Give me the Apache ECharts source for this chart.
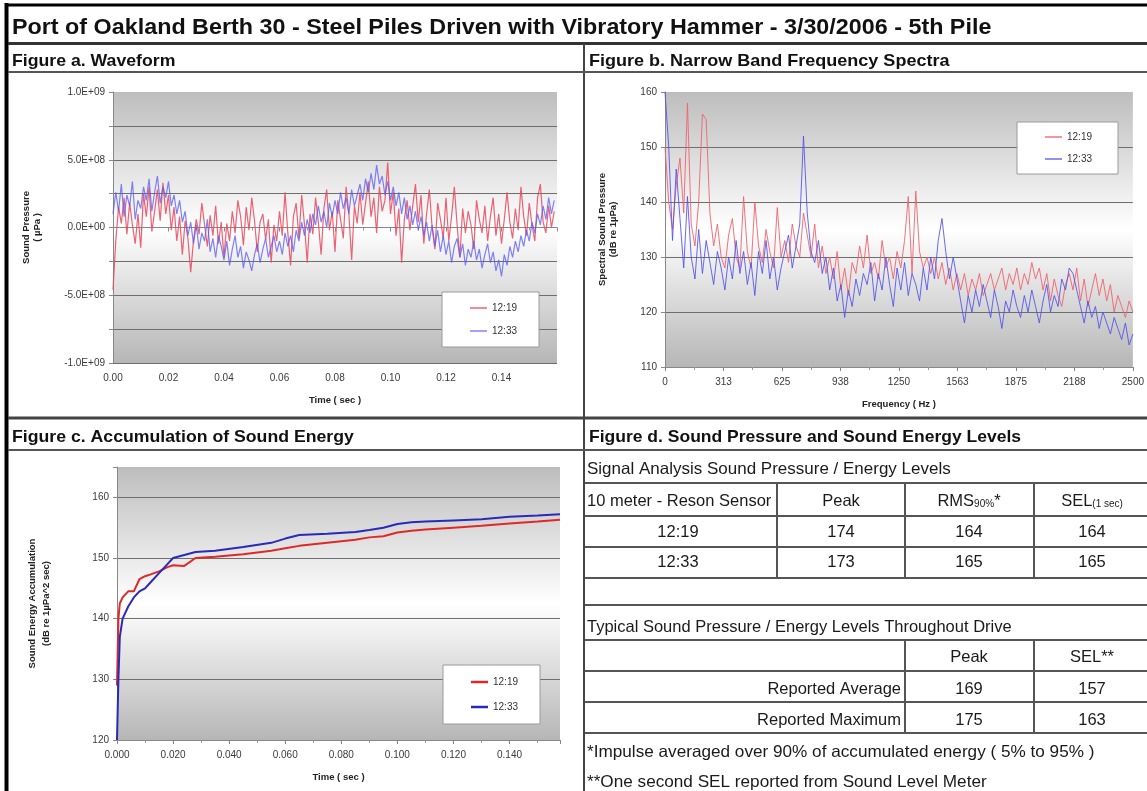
<!DOCTYPE html>
<html>
<head>
<meta charset="utf-8">
<script src="https://cdn.jsdelivr.net/npm/echarts@6/dist/echarts.min.js"></script>
<style>
html,body{margin:0;padding:0;background:#fff;}
#main{width:1147px;height:791px;}
</style>
</head>
<body>
<div id="main"></div>
<script>
// waveform, one sample per ms, values in units of 1E+08 uPa
var waveStep = 0.001;
var wave1219 = [
  -4.6, -1.0, 1.5, 0.3, 2.2, -0.5, 1.8, 0.2, -1.2, 1.0,
  -1.5, 2.5, 0.8, 3.0, -0.3, 1.2, 2.8, 0.5, 3.3, 1.0,
  2.4, -0.2, 1.5, -1.0, 0.8, -2.0, 0.5, -0.8, -3.3, -1.0,
  0.6, -0.5, 1.8, 0.2, -1.4, 0.9, -0.6, 1.6, -1.2, 0.4,
  -2.2, 0.3, -1.0, 1.2, -0.4, 2.0, 0.8, -1.3, 1.5, -0.2,
  2.2, 0.5, -1.8, 0.4, 1.0, -0.9, 0.6, -2.6, 0.2, -1.0,
  1.2, -0.6, 2.6, -0.4, -2.8, 0.8, 1.8, -0.8, 2.4, 0.2,
  -2.6, 1.0, -0.5, 2.2, 0.4, -2.0, 1.4, 2.8, -0.2, 1.2,
  -1.8, 2.0, 0.6, -0.8, 3.0, 1.0, -2.4, 1.6, 0.3, 2.6,
  0.2, 1.8, 3.4, 0.8, 2.2, -0.4, 3.0, 1.2, 2.0, 4.8,
  1.0, 2.6, -0.6, 1.4, -2.6, 0.6, 2.0, -0.2, 1.6, 3.2,
  0.4, 2.4, -1.2, 1.0, 2.8, 0.0, -1.6, 1.8, 0.6, -0.8,
  2.2, -1.0, 0.8, 3.0, 0.2, -2.2, 1.4, -0.4, 1.2, 0.2,
  -1.6, 2.0, 0.6, -0.4, 1.6, -1.0, 0.8, 2.2, -0.6, 1.0,
  -1.2, 0.6, 2.6, 0.4, -0.8, 1.4, -0.2, 3.0, 0.8, -0.6,
  1.8, 0.2, -1.0, 2.2, 3.2, 0.4, -0.4, 1.6, 0.0, 1.2
];
var wave1233 = [
  1.0, 2.6, 1.2, 3.2, 0.8, 2.4, 1.6, 3.4, 0.6, 2.0,
  1.4, 3.0, 2.0, 3.6, 1.2, 2.6, 3.8, 1.8, 3.0, 2.2,
  3.4, 1.6, 2.4, 1.0, 2.0, 0.4, 1.2, -0.6, 0.4, -1.2,
  0.2, -1.6, -0.4, -1.0, 0.6, -1.8, -0.8, -2.2, -0.6, -1.4,
  -2.4, -1.0, -2.8, -1.6, -0.6, -2.2, -1.4, -3.0, -1.8, -2.4,
  -3.2, -2.0, -1.2, -2.6, -1.6, -0.8, -2.2, -1.4, -0.6, -1.8,
  -1.0, -2.0, -0.4, -1.4, -0.6, -1.8, -0.2, -1.0, 0.4, -0.6,
  0.6, -0.4, 1.0, 0.2, 1.6, 0.4, 1.2, 0.0, 1.8, 0.8,
  2.0, 1.0, 2.6, 1.4, 2.2, 1.0, 2.8, 1.6, 2.4, 3.2,
  2.0, 3.6, 2.6, 4.0, 2.8, 4.6, 3.2, 3.8, 2.4, 3.4,
  2.0, 3.0, 1.6, 2.6, 1.0, 2.2, 0.6, 1.6, 0.2, 1.2,
  -0.2, 0.8, -0.6, 0.4, -1.0, 0.2, -1.4, -0.2, -1.8, -0.6,
  -2.0, -1.0, -2.6, -1.4, -0.8, -2.2, -1.2, -2.8, -1.6, -2.2,
  -1.0, -2.4, -1.6, -3.0, -2.0, -1.2, -2.6, -1.8, -3.2, -2.4,
  -3.6, -2.0, -2.8, -1.4, -2.2, -1.0, -1.8, -0.6, -1.4, -0.2,
  -1.0, 0.4, -0.4, 1.0, 0.2, 1.6, 0.6, 2.2, 1.0, 2.0
];

// narrow band spectra, one value per 20 Hz, dB re 1uPa
var specStep = 20;
var spec1219 = [
  150, 140, 135, 143, 148, 138, 158, 136, 132, 140, 156, 155, 138, 132, 136, 130,
  128, 134, 137, 130, 128, 141, 131, 128, 140, 132, 129, 135, 131, 128, 139, 130,
  133, 129, 136, 132, 130, 138, 134, 130, 136, 128, 132, 127, 130, 126, 131, 124,
  128, 123, 129, 127, 132, 128, 134, 127, 129, 126, 133, 128, 130, 126, 131,
  128, 133, 141, 127, 142, 131, 128, 130, 127, 130, 126, 129, 125, 128, 124, 127,
  124, 127, 123, 126, 124, 127, 123, 125, 127, 124, 126, 128, 124, 127, 125,
  128, 124, 127, 125, 129, 126, 128, 124, 127, 122, 126, 123, 121, 125, 127, 124,
  128, 122, 126, 121, 124, 127, 123, 126, 122, 125, 120, 123, 121, 119, 122, 120
];
var spec1233 = [
  160, 150, 133, 146, 137, 128, 141, 130, 126, 135, 127, 133, 129, 125, 131, 128,
  124, 130, 126, 133, 127, 131, 125, 129, 123, 131, 127, 133, 126, 130, 124, 128,
  131, 134, 128, 132, 136, 152, 138, 131, 129, 133, 127, 130, 124, 128, 122, 125,
  119, 124, 121, 126, 123, 127, 125, 129, 122, 127, 124, 130, 125, 121, 128,
  124, 129, 123, 127, 125, 122, 128, 124, 130, 126, 133, 137, 131, 126, 130, 126,
  122, 118, 123, 120, 124, 121, 125, 122, 119, 124, 121, 117, 122, 120, 124,
  121, 119, 123, 120, 124, 121, 118, 122, 125, 120, 123, 121, 126, 124, 128, 127,
  124, 121, 118, 122, 119, 121, 117, 120, 118, 116, 119, 117, 115, 118, 114, 116
];

// accumulation of sound energy, dB re 1uPa^2 sec
var accTime = [0, 0.0005, 0.001, 0.002, 0.004, 0.006, 0.008, 0.010, 0.012, 0.015, 0.018,
  0.020, 0.024, 0.028, 0.035, 0.045, 0.055, 0.060, 0.065, 0.075, 0.085, 0.090, 0.095,
  0.100, 0.105, 0.110, 0.120, 0.130, 0.140, 0.150, 0.158];
var acc1219 = [129, 140, 142.5, 143.5, 144.5, 144.5, 146.5, 147, 147.3, 147.8, 148.5,
  148.8, 148.7, 150, 150.2, 150.6, 151.2, 151.6, 152, 152.5, 153, 153.4, 153.6,
  154.2, 154.5, 154.7, 155, 155.3, 155.7, 156, 156.3];
var acc1233 = [120, 130, 137, 140, 142, 143.5, 144.5, 145, 146, 147.5, 149,
  150, 150.5, 151, 151.2, 151.8, 152.5, 153.2, 153.8, 154, 154.3, 154.6, 155,
  155.6, 155.9, 156, 156.2, 156.4, 156.8, 157, 157.2];

// figure d table
var signalTimes = ['12:19', '12:33'];
var signalPeak = [174, 173];
var signalRms = [164, 165];
var signalSel = [164, 165];
var typicalLabels = ['Reported Average', 'Reported Maximum'];
var typicalPeak = [169, 175];
var typicalSel = [157, 163];
var footnotes = ['*Impulse averaged over 90% of accumulated energy ( 5% to 95% )',
  '**One second SEL reported from Sound Level Meter'];

var font = '"Liberation Sans", Arial, sans-serif';
var red = 'rgba(232,72,92,0.85)';
var blue = 'rgba(90,90,245,0.75)';

function sci(v) {
  if (v === 0) return '0.0E+00';
  var x = v * 1e8;
  var e = Math.floor(Math.log10(Math.abs(x)) + 1e-9);
  return (x / Math.pow(10, e)).toFixed(1) + 'E+' + String(e).padStart(2, '0');
}

function plotBg() {
  return {type: 'linear', x: 0, y: 0, x2: 0, y2: 1, colorStops: [
    {offset: 0, color: '#bdbdbd'}, {offset: 0.5, color: '#ffffff'}, {offset: 1, color: '#b6b6b6'}]};
}
var axisLab = {color: '#3a3a3a', fontSize: 10, fontFamily: font};
var nameStyle = {color: '#222', fontSize: 9.5, fontWeight: 'bold', fontFamily: font, lineHeight: 11};
var gridLine = {show: true, showMaxLine: false, lineStyle: {color: '#6e6e6e', width: 1}};
var axLine = {lineStyle: {color: '#888'}};
var axTick = {length: 4, lineStyle: {color: '#888'}};

function xAx(gi, max, interval, fmt, name, showMax) {
  return {gridIndex: gi, type: 'value', min: 0, max: max, interval: interval,
    axisLine: axLine, axisTick: axTick, minorTick: {show: true, splitNumber: 2, length: 3, lineStyle: {color: '#999'}},
    splitLine: {show: false},
    axisLabel: Object.assign({}, axisLab, {formatter: fmt, showMaxLabel: showMax, margin: 10}),
    name: name, nameLocation: 'middle', nameGap: 32, nameTextStyle: nameStyle};
}
function yAx(gi, min, max, interval, fmt, name, gap, lh) {
  return {gridIndex: gi, type: 'value', min: min, max: max, interval: interval,
    axisLine: {show: true, lineStyle: {color: '#888'}}, axisTick: {show: true, length: 4, lineStyle: {color: '#888'}},
    splitLine: gridLine,
    axisLabel: Object.assign({}, axisLab, {formatter: fmt, margin: 8}),
    name: name, nameLocation: 'middle', nameRotate: 90, nameGap: gap,
    nameTextStyle: Object.assign({}, nameStyle, {lineHeight: lh || 11})};
}
function line(name, gi, data, color, width) {
  return {name: name, type: 'line', xAxisIndex: gi, yAxisIndex: gi, data: data,
    symbol: 'none', showSymbol: false, lineStyle: {color: color, width: width}, itemStyle: {color: color}};
}
function legendBox(names, left, top, pad, gap, mark) {
  return {data: names, left: left, top: top, orient: 'vertical', backgroundColor: '#fff',
    borderColor: '#9a9a9a', borderWidth: 1, padding: pad, itemGap: gap,
    icon: 'rect', itemWidth: 17, itemHeight: mark,
    formatter: function (n) { return n.slice(0, 5); },
    textStyle: {color: '#333', fontSize: 10, fontFamily: font}};
}

// frame and table drawn as graphic elements
function hl(y, x1, x2, w, c) {
  return {type: 'line', silent: true, shape: {x1: x1, y1: y, x2: x2, y2: y}, style: {stroke: c || '#555', lineWidth: w || 2}};
}
function vl(x, y1, y2, w, c) {
  return {type: 'line', silent: true, shape: {x1: x, y1: y1, x2: x, y2: y2}, style: {stroke: c || '#555', lineWidth: w || 2}};
}
function tx(s, x, y, st, sx) {
  return {type: 'text', silent: true, x: x, y: y, scaleX: sx || 1,
    style: Object.assign({text: s, fill: '#1a1a1a', fontFamily: font, fontSize: 16.5, align: 'left', verticalAlign: 'middle'}, st || {})};
}
var head = {fontWeight: 'bold', fontSize: 17, fill: '#111'};
var sub = {rich: {a: {fontSize: 16.5, fontFamily: font, verticalAlign: 'bottom'}, b: {fontSize: 10, fontFamily: font, verticalAlign: 'bottom'}}};

var g = [
  vl(6.5, 3, 791, 4, '#000'), hl(5, 5, 1147, 3, '#000'),
  hl(43.5, 8, 1147, 3, '#333'), vl(584, 44, 791, 2, '#444'),
  hl(72, 8, 1147, 2, '#555'), hl(418, 8, 1147, 3, '#444'), hl(450, 8, 1147, 2, '#555'),
  tx('Port of Oakland Berth 30 - Steel Piles Driven with Vibratory Hammer - 3/30/2006 - 5th Pile', 12, 28,
    {fontWeight: 'bold', fontSize: 22, fill: '#111'}, 1.06),
  tx('Figure a. Waveform', 12, 61, head, 1.04),
  tx('Figure b. Narrow Band Frequency Spectra', 589, 61, head, 1.06),
  tx('Figure c. Accumulation of Sound Energy', 12, 437, head, 1.04),
  tx('Figure d. Sound Pressure and Sound Energy Levels', 589, 437, head, 1.03),
  tx('Signal Analysis Sound Pressure / Energy Levels', 587, 469, null, 1.03),
  hl(483, 585, 1147), hl(516, 585, 1147), hl(547, 585, 1147), hl(578, 585, 1147),
  vl(777, 483, 578), vl(905, 483, 578), vl(1034, 483, 578),
  tx('10 meter - Reson Sensor', 587, 501),
  tx('Peak', 841, 501, {align: 'center'}),
  tx('{a|RMS}{b|90%}{a|*}', 969, 501, Object.assign({align: 'center'}, sub)),
  tx('{a|SEL}{b|(1 sec)}', 1092, 501, Object.assign({align: 'center'}, sub)),
  hl(605, 585, 1147), hl(640, 585, 1147), hl(671, 585, 1147), hl(702, 585, 1147), hl(733, 585, 1147),
  vl(905, 640, 733), vl(1034, 640, 733),
  tx('Typical Sound Pressure / Energy Levels Throughout Drive', 587, 627),
  tx('Peak', 969, 657, {align: 'center'}),
  tx('SEL**', 1092, 657, {align: 'center'})
];
signalTimes.forEach(function (t, i) {
  var y = 532 + i * 30;
  g.push(tx(t, 678, y, {align: 'center'}), tx(String(signalPeak[i]), 841, y, {align: 'center'}),
    tx(String(signalRms[i]), 969, y, {align: 'center'}), tx(String(signalSel[i]), 1092, y, {align: 'center'}));
});
typicalLabels.forEach(function (t, i) {
  var y = 689 + i * 31;
  g.push(tx(t, 901, y, {align: 'right'}), tx(String(typicalPeak[i]), 969, y, {align: 'center'}),
    tx(String(typicalSel[i]), 1092, y, {align: 'center'}));
});
footnotes.forEach(function (t, i) { g.push(tx(t, 587, 752 + i * 30, null, 1.04)); });

var chart = echarts.init(document.getElementById('main'));
chart.setOption({
  animation: false,
  backgroundColor: '#fff',
  textStyle: {fontFamily: font},
  grid: [
    {left: 113, top: 92, width: 444, height: 271, show: true, borderWidth: 0, backgroundColor: plotBg()},
    {left: 665, top: 92, width: 468, height: 275, show: true, borderWidth: 0, backgroundColor: plotBg()},
    {left: 117, top: 467, width: 443, height: 273, show: true, borderWidth: 0, backgroundColor: plotBg()}
  ],
  xAxis: [
    xAx(0, 0.16, 0.02, function (v) { return v.toFixed(2); }, 'Time ( sec )', false),
    xAx(1, 2500, 312.5, function (v) { return String(Math.round(v)); }, 'Frequency ( Hz )', true),
    xAx(2, 0.158, 0.02, function (v) { return v.toFixed(3); }, 'Time ( sec )', false)
  ],
  yAxis: [
    yAx(0, -10, 10, 2.5, function (v) { return v % 5 === 0 ? sci(v) : ''; }, 'Sound Pressure\n( µPa )', 70, 11),
    yAx(1, 110, 160, 10, function (v) { return String(v); }, 'Spectral Sound Pressure\n(dB re 1µPa)', 46, 11),
    yAx(2, 120, 165, 10, function (v) { return v > 160 ? '' : String(v); }, 'Sound Energy Accumulation\n(dB re 1µPa^2 sec)', 64, 14)
  ],
  legend: [
    legendBox(['12:19 a', '12:33 a'], 442, 292, [11, 22, 11, 28], 13, 1.5),
    legendBox(['12:19 b', '12:33 b'], 1017, 122, [10, 26, 10, 28], 12, 1.5),
    legendBox(['12:19 c', '12:33 c'], 443, 665, [12, 22, 12, 28], 15, 2.5)
  ],
  series: [
    line('12:19 a', 0, wave1219.map(function (v, i) { return [i * waveStep, v]; }), red, 1.2),
    line('12:33 a', 0, wave1233.map(function (v, i) { return [i * waveStep, v]; }), blue, 1.2),
    line('12:19 b', 1, spec1219.map(function (v, i) { return [i * specStep, v]; }), 'rgba(238,100,110,0.9)', 1),
    line('12:33 b', 1, spec1233.map(function (v, i) { return [i * specStep, v]; }), 'rgba(80,80,235,0.85)', 1),
    line('12:19 c', 2, accTime.map(function (t, i) { return [t, acc1219[i]]; }), '#e02828', 2),
    line('12:33 c', 2, accTime.map(function (t, i) { return [t, acc1233[i]]; }), '#2a2ab8', 2)
  ],
  graphic: g
});
</script>
</body>
</html>
